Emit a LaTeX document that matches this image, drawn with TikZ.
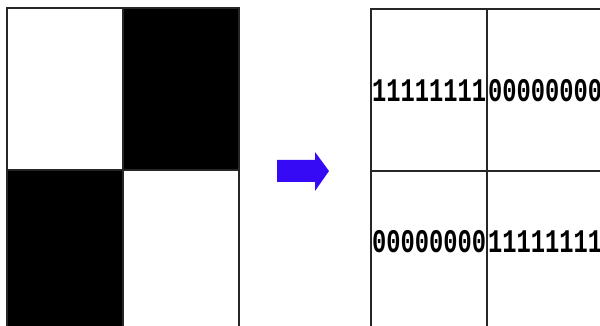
\documentclass[tikz,border=0pt]{standalone}
\usepackage{fontspec}
\setmainfont{Liberation Sans}
\newfontfamily\bitfont{Liberation Mono}
\usetikzlibrary{positioning}
\definecolor{arrowblue}{RGB}{55,10,245}

\begin{document}
\begin{tikzpicture}[x=1pt, y=-1pt,
    gridline/.style={draw=black!85, line width=1.6pt},
    bits/.style={anchor=west, inner sep=0pt, font=\bitfont\fontsize{33}{33}\selectfont\bfseries,
                 xscale=0.72, transform shape}]
  \useasboundingbox (0,0) rectangle (600,326);
  \clip (0,0) rectangle (600,326);

  % Left: black and white blocks
  \begin{scope}
    \fill[white] (7,8) rectangle (123,170);
    \fill[black] (123,8) rectangle (239,170);
    \fill[black] (7,170) rectangle (123,330);
    \fill[white] (123,170) rectangle (239,330);
    \draw[gridline] (7,330) -- (7,8) -- (239,8) -- (239,330);
    \draw[gridline] (123,8) -- (123,330);
    \draw[gridline] (7,170) -- (239,170);
  \end{scope}

  % Arrow
  \fill[arrowblue] (277,160) -- (315,160) -- (315,152) -- (329,171)
    -- (315,191) -- (315,182) -- (277,182) -- cycle;

  % Right: bit values
  \begin{scope}
    \draw[gridline, line width=1.3pt] (371,330) -- (371,9) -- (605,9);
    \draw[gridline, line width=1.3pt] (487,9) -- (487,330);
    \draw[gridline, line width=1.3pt] (371,171) -- (605,171);

    \node[bits] (tl) at (372,91) {11111111};
    \node[bits] (tr) at (488,91) {00000000};
    \node[bits] (bl) at (372,242) {00000000};
    \node[bits] (br) at (488,242) {11111111};
  \end{scope}
\end{tikzpicture}
\end{document}
